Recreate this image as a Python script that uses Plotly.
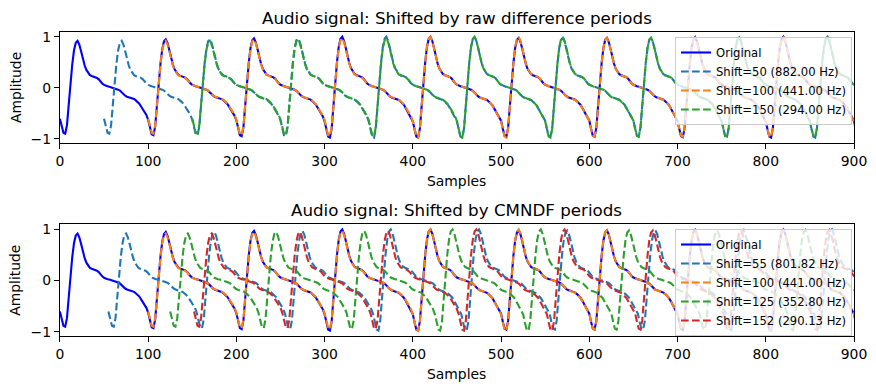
import numpy as np
import plotly.graph_objects as go

# ---- data ----
# one period (100 samples) of the waveform, sampled every 2 samples (phase 0..98)
period_phase = list(range(0, 100, 2))
period_shape = [
    -0.66, -0.82, -0.96, -0.98, -0.80, -0.36, 0.10, 0.50, 0.80, 0.96,
    1.00, 0.92, 0.78, 0.62, 0.48, 0.38, 0.31, 0.27, 0.25, 0.24,
    0.22, 0.21, 0.18, 0.13, 0.09, 0.06, 0.04, 0.03, 0.02, 0.01,
    0.00, -0.01, -0.02, -0.04, -0.06, -0.10, -0.14, -0.17, -0.19, -0.20,
    -0.21, -0.22, -0.24, -0.27, -0.30, -0.34, -0.40, -0.46, -0.52, -0.58,
]
# peak amplitude of each successive period of the signal
period_peak = [0.92, 0.95, 0.97, 1.00, 1.00, 0.98, 0.98, 0.99, 1.00, 0.99]

raw_shifts = [50, 100, 150]
raw_freqs = [882.00, 441.00, 294.00]
cmndf_shifts = [55, 100, 125, 152]
cmndf_freqs = [801.82, 441.00, 352.80, 290.13]

x_ticks = [0, 100, 200, 300, 400, 500, 600, 700, 800, 900]
y_ticks = [-1, 0, 1]
y_ticktext = ["\u22121", "0", "1"]

# ---- build signal ----
sig_x, sig_y = [], []
for k, g in enumerate(period_peak):
    for p, v in zip(period_phase, period_shape):
        sig_x.append(k * 100 + p)
        sig_y.append(v * g)
sig_x = np.array(sig_x)
sig_y = np.array(sig_y)

W, H = 876, 389
FONT = "DejaVu Sans"
colors = ["#1f77b4", "#ff7f0e", "#2ca02c", "#d62728"]
DASH = "7.7px,3.3px"

def px_x(p):
    return p / W

def px_y(p):
    return 1 - p / H

ax_left, ax_right = 59.9, 854.0
top_dom = [px_y(143.3), px_y(31.7)]
bot_dom = [px_y(336.3), px_y(224.3)]

fig = go.Figure()

def add_panel(shifts, freqs, xa, ya, legend):
    fig.add_trace(go.Scatter(x=sig_x, y=sig_y, mode="lines", name="Original",
                             line=dict(color="#0000ff", width=2.1),
                             xaxis=xa, yaxis=ya, legend=legend))
    for i, (s, f) in enumerate(zip(shifts, freqs)):
        fig.add_trace(go.Scatter(x=sig_x + s, y=sig_y, mode="lines",
                                 name=f"Shift={s} ({f:.2f} Hz)",
                                 line=dict(color=colors[i], width=2.1, dash=DASH),
                                 xaxis=xa, yaxis=ya, legend=legend))

add_panel(raw_shifts, raw_freqs, "x", "y", "legend")
add_panel(cmndf_shifts, cmndf_freqs, "x2", "y2", "legend2")

axis_common = dict(showline=True, linecolor="black", linewidth=1.1, mirror=True,
                   ticks="outside", ticklen=5, tickwidth=1.1, tickcolor="black",
                   showgrid=False, zeroline=False, automargin=False,
                   tickfont=dict(size=13.9, color="black", family=FONT))

xcfg = dict(axis_common, range=[0, 900], tickvals=x_ticks,
            domain=[px_x(ax_left), px_x(ax_right)])
ycfg = dict(axis_common, range=[-1.09, 1.10], tickvals=y_ticks, ticktext=y_ticktext)

legend_common = dict(xref="paper", yref="paper", x=px_x(852), xanchor="right",
                     yanchor="top", bgcolor="rgba(255,255,255,0.8)",
                     bordercolor="#cccccc", borderwidth=1,
                     font=dict(size=11.6, family=FONT, color="black"),
                     tracegroupgap=0, itemwidth=30)

fig.update_layout(
    width=W, height=H, autosize=False,
    margin=dict(l=0, r=0, t=0, b=0, pad=0, autoexpand=False),
    paper_bgcolor="white", plot_bgcolor="white",
    font=dict(family=FONT, color="black"),
    xaxis=dict(xcfg, anchor="y"),
    yaxis=dict(ycfg, domain=top_dom, anchor="x"),
    xaxis2=dict(xcfg, anchor="y2"),
    yaxis2=dict(ycfg, domain=bot_dom, anchor="x2"),
    legend=dict(legend_common, y=px_y(37)),
    legend2=dict(legend_common, y=px_y(229)),
    showlegend=True,
)

cx = px_x((ax_left + ax_right) / 2)
ann = [
    dict(text="Audio signal: Shifted by raw difference periods", x=cx, y=px_y(18.5), size=16.7),
    dict(text="Samples", x=cx, y=px_y(180.5), size=13.9),
    dict(text="Audio signal: Shifted by CMNDF periods", x=cx, y=px_y(210), size=16.7),
    dict(text="Samples", x=cx, y=px_y(373.5), size=13.9),
]
for a in ann:
    fig.add_annotation(text=a["text"], x=a["x"], y=a["y"], xref="paper", yref="paper",
                       xanchor="center", yanchor="middle", showarrow=False,
                       font=dict(size=a["size"], family=FONT, color="black"))
for yc in [(31.7 + 143.3) / 2, (224.3 + 336.3) / 2]:
    fig.add_annotation(text="Amplitude", x=px_x(15.5), y=px_y(yc), xref="paper", yref="paper",
                       xanchor="center", yanchor="middle", showarrow=False, textangle=-90,
                       font=dict(size=13.9, family=FONT, color="black"))

fig.write_html("out.html", config={"responsive": False, "displayModeBar": False},
               post_script="document.body.style.margin='0';document.body.style.padding='0';")
